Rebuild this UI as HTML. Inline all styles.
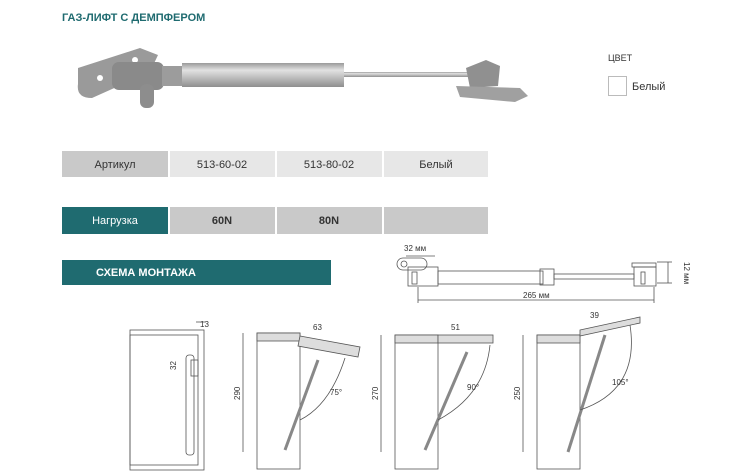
<!DOCTYPE html>
<html><head><meta charset="utf-8"><style>
body{margin:0;background:#fff;width:750px;height:474px;overflow:hidden;font-family:"Liberation Sans",sans-serif}
svg{position:absolute;left:0;top:0}
</style></head><body>
<svg width="750" height="474" viewBox="0 0 750 474" font-family="Liberation Sans, sans-serif">
<defs><linearGradient id="cy" x1="0" y1="0" x2="0" y2="1"><stop offset="0" stop-color="#9a9a9a"/><stop offset="0.3" stop-color="#e2e2e2"/><stop offset="1" stop-color="#8f8f8f"/></linearGradient></defs>
<text x="62" y="21" font-size="11" font-weight="bold" fill="#1f6b70">ГАЗ-ЛИФТ  С ДЕМПФЕРОМ</text>
<!-- gas spring photo -->
<path d="M78 68 L140 48 L158 55 L150 72 L92 98 Q76 98 78 84Z" fill="#9a9a9a"/>
<circle cx="100" cy="78" r="3" fill="#fff"/><circle cx="135" cy="60" r="3" fill="#fff"/>
<rect x="112" y="62" width="52" height="28" rx="7" fill="#8a8a8a"/>
<rect x="140" y="84" width="14" height="24" rx="6" fill="#8d8d8d"/>
<rect x="162" y="66" width="20" height="20" fill="#9c9c9c"/>
<rect x="182" y="63" width="138" height="24" fill="url(#cy)"/>
<rect x="318" y="63" width="26" height="24" fill="url(#cy)"/>
<rect x="344" y="72" width="126" height="5" fill="url(#cy)"/>
<path d="M466 68 L486 60 L500 66 L498 86 L470 88Z" fill="#909090"/>
<path d="M456 86 L520 88 L528 96 L515 102 L460 97Z" fill="#a0a0a0"/>
<!-- color -->
<text x="608" y="61" font-size="9" fill="#333">ЦВЕТ</text>
<rect x="608.5" y="76.5" width="18" height="19" fill="#fff" stroke="#bbb"/>
<text x="632" y="90" font-size="11" fill="#333">Белый</text>
<!-- table -->
<rect x="62" y="151" width="106" height="26" fill="#c9c9c9"/>
<rect x="170" y="151" width="105" height="26" fill="#e7e7e7"/>
<rect x="277" y="151" width="105" height="26" fill="#e7e7e7"/>
<rect x="384" y="151" width="104" height="26" fill="#e7e7e7"/>
<g font-size="11" fill="#333" text-anchor="middle">
<text x="115" y="168">Артикул</text><text x="222" y="168">513-60-02</text>
<text x="329" y="168">513-80-02</text><text x="436" y="168">Белый</text></g>
<rect x="62" y="207" width="106" height="27" fill="#1f6b70"/>
<rect x="170" y="207" width="105" height="27" fill="#c9c9c9"/>
<rect x="277" y="207" width="105" height="27" fill="#c9c9c9"/>
<rect x="384" y="207" width="104" height="27" fill="#c9c9c9"/>
<text x="115" y="224" font-size="11" fill="#fff" text-anchor="middle">Нагрузка</text>
<g font-size="11" font-weight="bold" fill="#333" text-anchor="middle"><text x="222" y="224">60N</text><text x="329" y="224">80N</text></g>
<rect x="62" y="260" width="269" height="25" fill="#1f6b70"/>
<text x="146" y="276" font-size="11" font-weight="bold" fill="#fff" text-anchor="middle">СХЕМА МОНТАЖА</text>
<!-- top right drawing -->
<g stroke="#555" fill="none" stroke-width="0.8">
<rect x="397" y="258" width="30" height="12" rx="6"/>
<circle cx="404" cy="264" r="3"/>
<rect x="408" y="267" width="30" height="19"/>
<rect x="412" y="272" width="5" height="12"/>
<rect x="438" y="271" width="105" height="13"/>
<rect x="540" y="269" width="14" height="16"/>
<rect x="554" y="274" width="80" height="5"/>
<rect x="634" y="267" width="22" height="19"/>
<rect x="641" y="272" width="4" height="12"/>
<rect x="632" y="263" width="24" height="4"/>
<line x1="418" y1="287" x2="418" y2="303"/><line x1="654" y1="287" x2="654" y2="303"/>
<line x1="418" y1="300" x2="654" y2="300"/>
<line x1="406" y1="256" x2="435" y2="256"/>
<line x1="657" y1="262" x2="672" y2="262"/><line x1="657" y1="283" x2="672" y2="283"/><line x1="668" y1="262" x2="668" y2="283"/>
</g>
<text x="404" y="251" font-size="8" fill="#333">32 мм</text>
<text x="523" y="298" font-size="8" fill="#333">265 мм</text>
<text x="684" y="262" font-size="8" fill="#333" transform="rotate(90 684 262)">12 мм</text>
<!-- side view -->
<g stroke="#555" fill="none" stroke-width="0.8">
<rect x="130" y="330" width="74" height="140"/>
<rect x="130" y="335" width="68" height="130"/>
<rect x="186" y="355" width="8" height="100" rx="3"/>
<rect x="191" y="360" width="7" height="16"/>
<line x1="196" y1="322" x2="205" y2="322"/>
</g>
<text x="200" y="327" font-size="8" fill="#333">13</text>
<text x="176" y="370" font-size="8" fill="#333" transform="rotate(-90 176 370)">32</text>
<!-- diagrams -->
<g stroke="#555" fill="none" stroke-width="0.8">
<rect x="257" y="333" width="43" height="136"/>
<rect x="257" y="333" width="43" height="8" fill="#ddd"/>
<path d="M300 336 L360 347 L358 357 L298 346Z" fill="#ddd"/>
<line x1="318" y1="360" x2="285" y2="450" stroke-width="3" stroke="#888"/>
<path d="M300 420 Q330 405 345 358"/>
<line x1="243" y1="333" x2="243" y2="452"/>
<rect x="395" y="335" width="43" height="134"/>
<rect x="395" y="335" width="43" height="8" fill="#ddd"/>
<rect x="438" y="335" width="55" height="8" fill="#ddd"/>
<line x1="467" y1="352" x2="425" y2="450" stroke-width="3" stroke="#888"/>
<path d="M438 420 Q485 395 490 345"/>
<line x1="381" y1="335" x2="381" y2="452"/>
<rect x="537" y="335" width="43" height="134"/>
<rect x="537" y="335" width="43" height="8" fill="#ddd"/>
<path d="M580 330 L640 317 L640 323 L580 336Z" fill="#ddd"/>
<line x1="605" y1="335" x2="568" y2="452" stroke-width="3" stroke="#888"/>
<path d="M580 410 Q640 390 630 325"/>
<line x1="523" y1="335" x2="523" y2="452"/>
</g>
<g font-size="8" fill="#333">
<text x="313" y="330">63</text><text x="451" y="330">51</text><text x="590" y="318">39</text>
<text x="240" y="400" transform="rotate(-90 240 400)">290</text>
<text x="378" y="400" transform="rotate(-90 378 400)">270</text>
<text x="520" y="400" transform="rotate(-90 520 400)">250</text>
<text x="330" y="395">75°</text><text x="467" y="390">90°</text><text x="612" y="385">105°</text>
</g>
</svg>
</body></html>
